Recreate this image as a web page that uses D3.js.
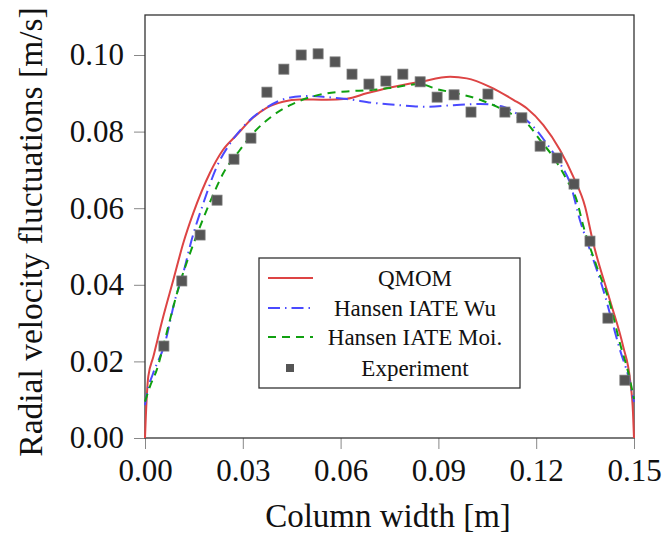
<!DOCTYPE html>
<html>
<head>
<meta charset="utf-8">
<script src="https://cdn.jsdelivr.net/npm/d3@7"></script>
<style>
  body { margin: 0; background: #fff; }
</style>
</head>
<body>
<div id="chart"></div>
<script>
// ---- data ----
const xTicks = [0, 0.03, 0.06, 0.09, 0.12, 0.15];
const yTicks = [0, 0.02, 0.04, 0.06, 0.08, 0.10];

const qmomX = [0, 0.00015, 0.001, 0.00255, 0.0056, 0.0087, 0.01175, 0.0148, 0.0199, 0.0239, 0.0281, 0.0331, 0.0373, 0.0423, 0.0475, 0.0557, 0.0619, 0.068, 0.0752, 0.0844, 0.0936, 0.0987, 0.1058, 0.113, 0.1171, 0.1222, 0.1273, 0.1314, 0.135, 0.1375, 0.1426, 0.1467, 0.1488, 0.1497, 0.15];
const qmomY = [0, 0.0034, 0.016, 0.0212, 0.0317, 0.0413, 0.0509, 0.0587, 0.0692, 0.0752, 0.0791, 0.0836, 0.0862, 0.0878, 0.0884, 0.0883, 0.0886, 0.090, 0.0915, 0.093, 0.0943, 0.0939, 0.0917, 0.0883, 0.0861, 0.0817, 0.0752, 0.0682, 0.0604, 0.0509, 0.036, 0.0238, 0.0151, 0.0065, 0];

const wuX = [0, 0.0007, 0.0025, 0.0061, 0.0092, 0.0117, 0.0143, 0.0179, 0.022, 0.0261, 0.0312, 0.0373, 0.0435, 0.0496, 0.0557, 0.0619, 0.07, 0.0782, 0.0864, 0.0946, 0.1028, 0.1099, 0.113, 0.1181, 0.1232, 0.1273, 0.1304, 0.1334, 0.1365, 0.1406, 0.1437, 0.1457, 0.1483, 0.15];
const wuY = [0.0086, 0.0121, 0.0169, 0.0247, 0.036, 0.043, 0.0517, 0.0613, 0.0708, 0.0769, 0.0822, 0.0863, 0.0887, 0.0893, 0.089, 0.0885, 0.0875, 0.0869, 0.0865, 0.0869, 0.0872, 0.0865, 0.0852, 0.0822, 0.0769, 0.0717, 0.0665, 0.0569, 0.0491, 0.0386, 0.0291, 0.023, 0.016, 0.0094];

const moiX = [0, 0.0015, 0.0036, 0.0061, 0.0087, 0.0107, 0.0138, 0.0163, 0.0199, 0.024, 0.0291, 0.0332, 0.0394, 0.0445, 0.0496, 0.0557, 0.0619, 0.07, 0.0752, 0.0844, 0.0895, 0.0956, 0.1028, 0.1079, 0.113, 0.1171, 0.1212, 0.1252, 0.1294, 0.1324, 0.1345, 0.1386, 0.1426, 0.1457, 0.1483, 0.15];
const moiY = [0.0095, 0.0134, 0.0178, 0.0256, 0.0343, 0.0404, 0.0482, 0.0539, 0.0615, 0.0691, 0.0752, 0.0796, 0.0843, 0.0869, 0.0887, 0.09, 0.0905, 0.0909, 0.0914, 0.0924, 0.0911, 0.09, 0.0883, 0.0865, 0.0843, 0.0822, 0.0778, 0.0734, 0.0674, 0.0621, 0.0552, 0.0447, 0.0352, 0.0247, 0.0169, 0.0102];

const expX = [0.0058, 0.0113, 0.0169, 0.0221, 0.0273, 0.0325, 0.0374, 0.0426, 0.0479, 0.0531, 0.0583, 0.0635, 0.0687, 0.0739, 0.0791, 0.0844, 0.0896, 0.0948, 0.1000, 0.1052, 0.1104, 0.1156, 0.1212, 0.1264, 0.1316, 0.1365, 0.1420, 0.1472];
const expY = [0.0240, 0.0410, 0.0530, 0.0621, 0.0728, 0.0783, 0.0903, 0.0963, 0.1000, 0.1003, 0.0982, 0.0950, 0.0924, 0.0932, 0.0950, 0.0930, 0.0890, 0.0896, 0.0851, 0.0898, 0.0851, 0.0836, 0.0762, 0.0731, 0.0663, 0.0514, 0.0313, 0.0151];

const legendLabels = ["QMOM", "Hansen IATE Wu", "Hansen IATE Moi.", "Experiment"];

const FONT = "'Liberation Serif', 'Times New Roman', serif";

// ---- layout ----
const margin = {top: 15, right: 29, bottom: 101, left: 145},
  width = 663 - margin.left - margin.right,
  height = 539 - margin.top - margin.bottom;

const svg = d3.select("#chart")
  .append("svg")
    .attr("width", 663)
    .attr("height", 539)
  .append("g")
    .attr("transform", `translate(${margin.left},${margin.top})`);

const x = d3.scaleLinear().domain([0, 0.15]).range([0, width]);
const y = d3.scaleLinear().domain([0, 0.105]).range([height, height - 0.105 / 0.1 * 383]);

// ticks (outside) and labels
svg.append("g")
  .attr("transform", `translate(0,${height})`)
  .call(d3.axisBottom(x).tickValues(xTicks).tickSize(11).tickPadding(10).tickFormat(d3.format(".2f")))
  .call(g => g.select(".domain").remove())
  .call(g => g.selectAll(".tick line").attr("stroke", "#888"))
  .call(g => g.selectAll(".tick text")
    .style("font-family", FONT).style("font-size", "31px").style("fill", "#111"));

svg.append("g")
  .call(d3.axisLeft(y).tickValues(yTicks).tickSize(11).tickPadding(10).tickFormat(d3.format(".2f")))
  .call(g => g.select(".domain").remove())
  .call(g => g.selectAll(".tick line").attr("stroke", "#888"))
  .call(g => g.selectAll(".tick text")
    .style("font-family", FONT).style("font-size", "31px").style("fill", "#111"));

// frame
svg.append("rect")
  .attr("x", 0).attr("y", 0)
  .attr("width", width).attr("height", height)
  .attr("fill", "none")
  .attr("stroke", "#333")
  .attr("stroke-width", 1.3);

// axis labels
svg.append("text")
  .attr("x", 388 - margin.left)
  .attr("y", 527 - margin.top)
  .attr("text-anchor", "middle")
  .style("font-family", FONT).style("font-size", "33px").style("fill", "#111")
  .text("Column width [m]");

svg.append("text")
  .attr("transform", `translate(${42 - margin.left},${232 - margin.top}) rotate(-90)`)
  .attr("text-anchor", "middle")
  .style("font-family", FONT).style("font-size", "33.5px").style("fill", "#111")
  .text("Radial velocity fluctuations [m/s]");

// lines
const line = d3.line()
  .x(d => x(d[0]))
  .y(d => y(d[1]))
  .curve(d3.curveMonotoneX);

const series = [
  {xs: qmomX, ys: qmomY, color: "#dd4444", dash: null},
  {xs: wuX, ys: wuY, color: "#4a4aff", dash: "12 5 1.5 5"},
  {xs: moiX, ys: moiY, color: "#10a010", dash: "8 6"}
];

series.forEach(s => {
  svg.append("path")
    .datum(s.xs.map((v, i) => [v, s.ys[i]]))
    .attr("fill", "none")
    .attr("stroke", s.color)
    .attr("stroke-width", 2)
    .attr("stroke-dasharray", s.dash)
    .attr("d", line);
});

// experiment squares
svg.append("g")
  .selectAll("rect")
  .data(expX.map((v, i) => [v, expY[i]]))
  .join("rect")
    .attr("x", d => x(d[0]) - 5)
    .attr("y", d => y(d[1]) - 5)
    .attr("width", 10)
    .attr("height", 10)
    .attr("fill", "#555")
    .attr("stroke", "#777")
    .attr("stroke-width", 0.8);

// legend
const legend = svg.append("g")
  .attr("transform", `translate(${259 - margin.left},${258 - margin.top})`);

legend.append("rect")
  .attr("width", 261)
  .attr("height", 130)
  .attr("fill", "#fff")
  .attr("stroke", "#333")
  .attr("stroke-width", 1.3);

const rowY = [20, 50, 79, 110];

legendLabels.forEach((lab, i) => {
  if (i < 3) {
    legend.append("line")
      .attr("x1", 9).attr("x2", 54)
      .attr("y1", rowY[i]).attr("y2", rowY[i])
      .attr("stroke", series[i].color)
      .attr("stroke-width", 2)
      .attr("stroke-dasharray", series[i].dash);
  } else {
    legend.append("rect")
      .attr("x", 27).attr("y", rowY[i] - 4)
      .attr("width", 8).attr("height", 8)
      .attr("fill", "#555");
  }
  legend.append("text")
    .attr("x", 156)
    .attr("y", rowY[i])
    .attr("dy", "0.35em")
    .attr("text-anchor", "middle")
    .style("font-family", FONT).style("font-size", "23px").style("fill", "#111")
    .text(lab);
});
</script>
</body>
</html>
